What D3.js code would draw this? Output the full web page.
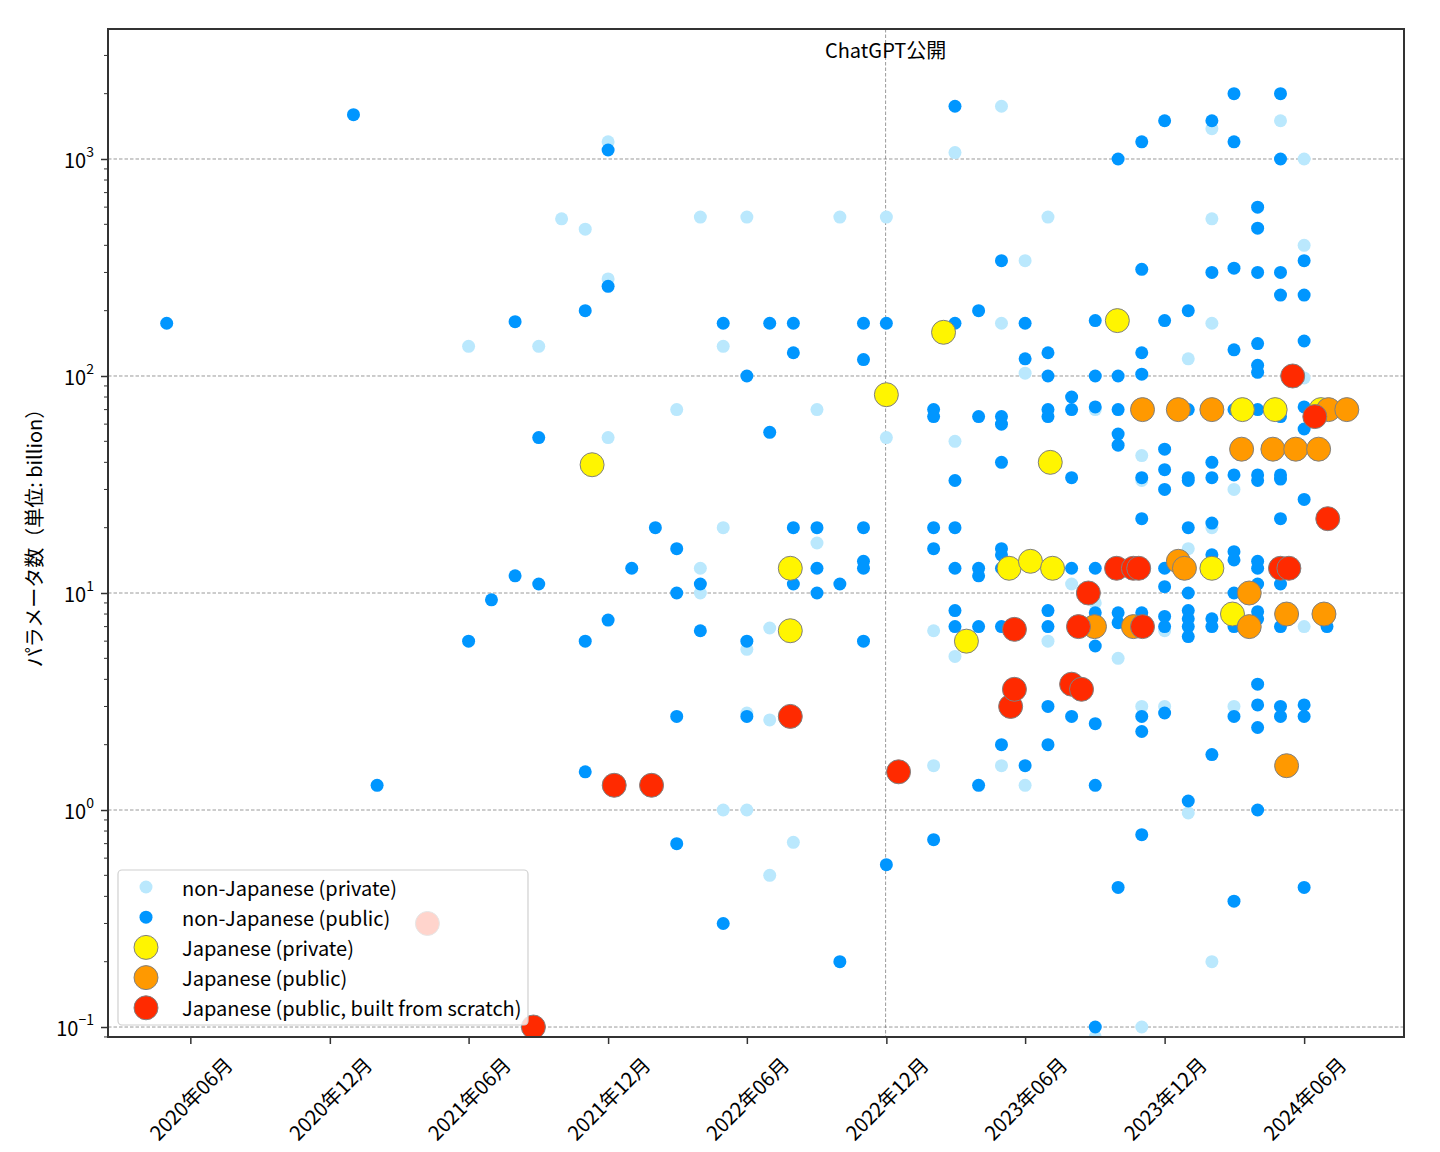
<!DOCTYPE html>
<html>
<head>
<meta charset="utf-8">
<script src="https://cdn.jsdelivr.net/npm/d3@7"></script>
<style>
  html, body { margin: 0; padding: 0; background: #fff; }
  svg text { font-family: "Noto Sans CJK JP", "Noto Sans", sans-serif; fill: #000; }
</style>
</head>
<body>
<svg id="chart" width="1440" height="1152"></svg>
<script>
// ---------------- data ----------------
const nonJpPrivate = [
  ["2021-06",137],["2021-09",137],["2021-10",530],["2021-11",475],["2021-12",1200],["2021-12",280],["2021-12",52],
  ["2022-03",70],["2022-04",540],["2022-04",13],["2022-04",10],
  ["2022-05",137],["2022-05",20],["2022-05",1.0],
  ["2022-06",540],["2022-06",5.5],["2022-06",2.8],["2022-06",1.0],
  ["2022-07",6.9],["2022-07",2.6],["2022-07",0.5],
  ["2022-08",0.71],["2022-09",70],["2022-09",17],["2022-10",540],
  ["2022-12",540],["2022-12",52],
  ["2023-02",6.7],["2023-02",1.6],
  ["2023-03",1070],["2023-03",50],["2023-03",5.1],
  ["2023-05",1750],["2023-05",175],["2023-05",1.6],
  ["2023-06",340],["2023-06",103],["2023-06",1.3],
  ["2023-07",540],["2023-07",6.0],["2023-08",11],
  ["2023-09",70],["2023-09",9.0],["2023-09",0.09],
  ["2023-10",5.0],
  ["2023-11",43],["2023-11",33],["2023-11",3.0],["2023-11",0.1],
  ["2023-12",6.7],["2023-12",3.0],
  ["2024-01",120],["2024-01",16],["2024-01",0.97],
  ["2024-02",1380],["2024-02",530],["2024-02",175],["2024-02",20],["2024-02",0.2],
  ["2024-03",30],["2024-03",3.0],
  ["2024-05",1500],
  ["2024-06",1000],["2024-06",400],["2024-06",98],["2024-06",7.0]
];
const nonJpPublic = [
  ["2020-05",175],["2021-01",1600],["2021-02",1.3],["2021-06",6.0],["2021-07",9.3],
  ["2021-08",178],["2021-08",12],["2021-09",52],["2021-09",11],
  ["2021-11",200],["2021-11",6.0],["2021-11",1.5],
  ["2021-12",1100],["2021-12",259],["2021-12",7.5],
  ["2022-01",13],["2022-02",20],
  ["2022-03",16],["2022-03",10],["2022-03",2.7],["2022-03",0.70],
  ["2022-04",11],["2022-04",6.7],["2022-05",175],["2022-05",0.30],
  ["2022-06",100],["2022-06",6.0],["2022-06",2.7],
  ["2022-07",175],["2022-07",55],
  ["2022-08",175],["2022-08",128],["2022-08",20],["2022-08",11],
  ["2022-09",20],["2022-09",13],["2022-09",10],
  ["2022-10",11],["2022-10",0.2],
  ["2022-11",175],["2022-11",119],["2022-11",20],["2022-11",14],["2022-11",13],["2022-11",6.0],
  ["2022-12",175],["2022-12",0.56],
  ["2023-02",70],["2023-02",65],["2023-02",20],["2023-02",16],["2023-02",0.73],
  ["2023-03",1750],["2023-03",175],["2023-03",33],["2023-03",20],["2023-03",13],["2023-03",8.3],["2023-03",7.0],
  ["2023-04",200],["2023-04",65],["2023-04",13],["2023-04",12],["2023-04",7.0],["2023-04",1.3],
  ["2023-05",340],["2023-05",65],["2023-05",60],["2023-05",40],["2023-05",16],["2023-05",15],["2023-05",13],["2023-05",7.0],["2023-05",2.0],
  ["2023-06",175],["2023-06",120],["2023-06",1.6],
  ["2023-07",128],["2023-07",100],["2023-07",70],["2023-07",65],["2023-07",8.3],["2023-07",7.0],["2023-07",3.0],["2023-07",2.0],
  ["2023-08",80],["2023-08",70],["2023-08",34],["2023-08",13],["2023-08",2.7],
  ["2023-09",180],["2023-09",100],["2023-09",72],["2023-09",13],["2023-09",8.1],["2023-09",5.7],["2023-09",2.5],["2023-09",1.3],["2023-09",0.1],
  ["2023-10",1000],["2023-10",100],["2023-10",70],["2023-10",54],["2023-10",48],["2023-10",8.1],["2023-10",7.3],["2023-10",0.44],
  ["2023-11",1200],["2023-11",310],["2023-11",128],["2023-11",102],["2023-11",34],["2023-11",22],["2023-11",8.1],["2023-11",2.7],["2023-11",2.3],["2023-11",0.77],
  ["2023-12",1500],["2023-12",180],["2023-12",46],["2023-12",37],["2023-12",30],["2023-12",13],["2023-12",10.7],["2023-12",7.8],["2023-12",7.0],["2023-12",2.8],
  ["2024-01",200],["2024-01",70],["2024-01",34],["2024-01",33],["2024-01",20],["2024-01",10],["2024-01",8.3],["2024-01",7.6],["2024-01",7.0],["2024-01",6.3],["2024-01",1.1],
  ["2024-02",1500],["2024-02",300],["2024-02",40],["2024-02",34],["2024-02",21],["2024-02",15],["2024-02",13],["2024-02",7.6],["2024-02",7.0],["2024-02",1.8],
  ["2024-03",2000],["2024-03",1200],["2024-03",314],["2024-03",132],["2024-03",70],["2024-03",35],["2024-03",15.5],["2024-03",14.2],["2024-03",10],["2024-03",7.0],["2024-03",2.7],["2024-03",0.38],
  ["2024-04",600],["2024-04",480],["2024-04",300],["2024-04",141],["2024-04",112],["2024-04",104],["2024-04",70],["2024-04",35],["2024-04",33],["2024-04",14],["2024-04",13],["2024-04",11],["2024-04",8.2],["2024-04",7.6],["2024-04",3.8],["2024-04",3.05],["2024-04",2.4],["2024-04",1.0],
  ["2024-05",2000],["2024-05",1000],["2024-05",300],["2024-05",236],["2024-05",65],["2024-05",35],["2024-05",33.5],["2024-05",22],["2024-05",11],["2024-05",7.0],["2024-05",3.0],["2024-05",2.7],
  ["2024-06",340],["2024-06",236],["2024-06",145],["2024-06",72],["2024-06",57],["2024-06",27],["2024-06",3.05],["2024-06",2.7],["2024-06",0.44],
  ["2024-07",7.0]
];
const jpPrivate = [
  ["2021-11-10",39],["2022-07-28",13],["2022-07-28",6.7],["2022-12-01",82],["2023-02-14",159],
  ["2023-03-16",6.0],["2023-05-11",13],["2023-06-08",14],["2023-07-04",40],["2023-07-07",13],
  ["2023-09-30",180],["2024-02-01",13],["2024-02-28",8.0],["2024-03-12",70],["2024-04-24",70],["2024-06-23",70]
];
const jpPublic = [
  ["2023-08-31",7],["2023-10-21",7],["2023-11-02",70],["2023-12-19",70],["2023-12-19",14],["2023-12-27",13],
  ["2024-02-01",70],["2024-03-11",46],["2024-03-21",10],["2024-03-21",7],["2024-04-21",46],["2024-05-09",8],
  ["2024-05-09",1.6],["2024-05-21",46],["2024-06-20",46],["2024-06-27",8],["2024-07-03",70],["2024-07-27",70]
];
const jpScratch = [
  ["2021-04-08",0.3],["2021-08-25",0.1],["2021-12-09",1.3],["2022-01-27",1.3],["2022-07-28",2.7],["2022-12-17",1.5],
  ["2023-05-13",3.0],["2023-05-18",6.8],["2023-05-18",3.6],["2023-08-01",3.8],["2023-08-10",7],["2023-08-14",3.6],
  ["2023-08-23",10],["2023-09-29",13],["2023-10-21",13],["2023-10-28",13],["2023-11-02",7],["2024-05-01",13],
  ["2024-05-12",13],["2024-05-17",100],["2024-06-15",65],["2024-07-02",22]
];
const seriesNames = ["non-Japanese (private)","non-Japanese (public)","Japanese (private)","Japanese (public)","Japanese (public, built from scratch)"];
const xTickDates = ["2020-06","2020-12","2021-06","2021-12","2022-06","2022-12","2023-06","2023-12","2024-06"];
const yTickValues = [0.1, 1, 10, 100, 1000];
const yTickExponents = ["\u22121","0","1","2","3"];
const chatgptDate = "2022-11-30";
const chatgptLabel = "ChatGPT公開";
const yLabel = "パラメータ数（単位: billion）";
const xDomain = ["2020-02-14","2024-10-10"];
const yDomain = [Math.pow(10,-1.046), Math.pow(10,3.599)];

// ---------------- setup ----------------
const parse = s => s.length === 7 ? d3.timeParse("%Y-%m")(s) : d3.timeParse("%Y-%m-%d")(s);
const L = 108, R = 1404, T = 29, B = 1037;
const FS = 20;
const svg = d3.select("#chart");
const x = d3.scaleTime().domain(xDomain.map(parse)).range([L, R]);
const y = d3.scaleLog().domain(yDomain).range([B, T]);

const styles = [
  {data: nonJpPrivate, fill: "#bae8fd", r: 6.5, stroke: "none"},
  {data: nonJpPublic, fill: "#0096ff", r: 6.5, stroke: "none"},
  {data: jpPrivate, fill: "#fff500", r: 12, stroke: "#808080"},
  {data: jpPublic, fill: "#ff9900", r: 12, stroke: "#808080"},
  {data: jpScratch, fill: "#ff2a00", r: 12, stroke: "#808080"}
];

svg.append("defs").append("clipPath").attr("id","plotclip")
  .append("rect").attr("x",L).attr("y",T).attr("width",R-L).attr("height",B-T);

// grid (horizontal major)
const grid = svg.append("g");
grid.selectAll("line.hg").data(yTickValues).join("line")
  .attr("x1",L).attr("x2",R).attr("y1",d=>y(d)).attr("y2",d=>y(d))
  .attr("stroke","#808080").attr("stroke-width",0.8).attr("stroke-dasharray","3.5,2");
// ChatGPT line
grid.append("line")
  .attr("x1",x(parse(chatgptDate))).attr("x2",x(parse(chatgptDate)))
  .attr("y1",T).attr("y2",B)
  .attr("stroke","#808080").attr("stroke-width",0.8).attr("stroke-dasharray","3.5,2");
svg.append("text").attr("x",x(parse(chatgptDate))).attr("y",49)
  .attr("text-anchor","middle").attr("dominant-baseline","central")
  .attr("font-size",FS).text(chatgptLabel);

// points
const pts = svg.append("g").attr("clip-path","url(#plotclip)");
styles.forEach(s => {
  pts.append("g").selectAll("circle").data(s.data).join("circle")
    .attr("cx", d => x(parse(d[0])))
    .attr("cy", d => y(d[1]))
    .attr("r", s.r)
    .attr("fill", s.fill)
    .attr("stroke", s.stroke)
    .attr("stroke-width", s.stroke === "none" ? 0 : 1);
});

// axes
const yAxis = d3.axisLeft(y).tickValues(yTickValues).tickFormat("").tickSize(7);
const gy = svg.append("g").attr("transform",`translate(${L},0)`).call(yAxis);
gy.select(".domain").remove();
gy.selectAll(".tick line").attr("stroke","#333").attr("stroke-width",1.5);
// minor ticks
const minor = [];
for (let e = -2; e <= 3; e++) for (let m = 2; m <= 9; m++) {
  const v = m * Math.pow(10, e);
  if (v >= yDomain[0] && v <= yDomain[1]) minor.push(v);
}
svg.append("g").selectAll("line").data(minor).join("line")
  .attr("x1",L-4).attr("x2",L).attr("y1",d=>y(d)).attr("y2",d=>y(d))
  .attr("stroke","#333").attr("stroke-width",1);
// y tick labels
const yl = svg.append("g");
yTickValues.forEach((v,i) => {
  const t = yl.append("text").attr("x",L-14).attr("y",y(v)).attr("text-anchor","end")
    .attr("dominant-baseline","central").attr("font-size",FS);
  t.append("tspan").text("10");
  t.append("tspan").attr("font-size",14).attr("dy",-8).text(yTickExponents[i]);
});

const xAxis = d3.axisBottom(x).tickValues(xTickDates.map(parse)).tickFormat("").tickSize(7);
const gx = svg.append("g").attr("transform",`translate(0,${B})`).call(xAxis);
gx.select(".domain").remove();
gx.selectAll(".tick line").attr("stroke","#333").attr("stroke-width",1.5);
const fmt = d3.timeFormat("%Y年%m月");
svg.append("g").selectAll("text").data(xTickDates).join("text")
  .attr("transform", d => `translate(${x(parse(d))},1098) rotate(-45)`)
  .attr("text-anchor","middle").attr("dominant-baseline","central")
  .attr("font-size",FS).text(d => fmt(parse(d)));

// frame
svg.append("rect").attr("x",L).attr("y",T).attr("width",R-L).attr("height",B-T)
  .attr("fill","none").attr("stroke","#333").attr("stroke-width",2);

// y label
svg.append("text").attr("transform",`translate(33,${(T+B)/2}) rotate(-90)`)
  .attr("text-anchor","middle").attr("dominant-baseline","central")
  .attr("font-size",FS).text(yLabel);

// legend
const lg = svg.append("g");
lg.append("rect").attr("x",118).attr("y",870).attr("width",410).attr("height",155)
  .attr("rx",4).attr("fill","#fff").attr("fill-opacity",0.8)
  .attr("stroke","#d0d0d0").attr("stroke-width",1.2);
styles.forEach((s,i) => {
  const cy = 887 + i * 30.2;
  lg.append("circle").attr("cx",146).attr("cy",cy).attr("r",s.r)
    .attr("fill",s.fill).attr("stroke",s.stroke).attr("stroke-width", s.stroke === "none" ? 0 : 1);
  lg.append("text").attr("x",182).attr("y",cy).attr("dominant-baseline","central")
    .attr("font-size",FS).text(seriesNames[i]);
});
</script>
</body>
</html>
